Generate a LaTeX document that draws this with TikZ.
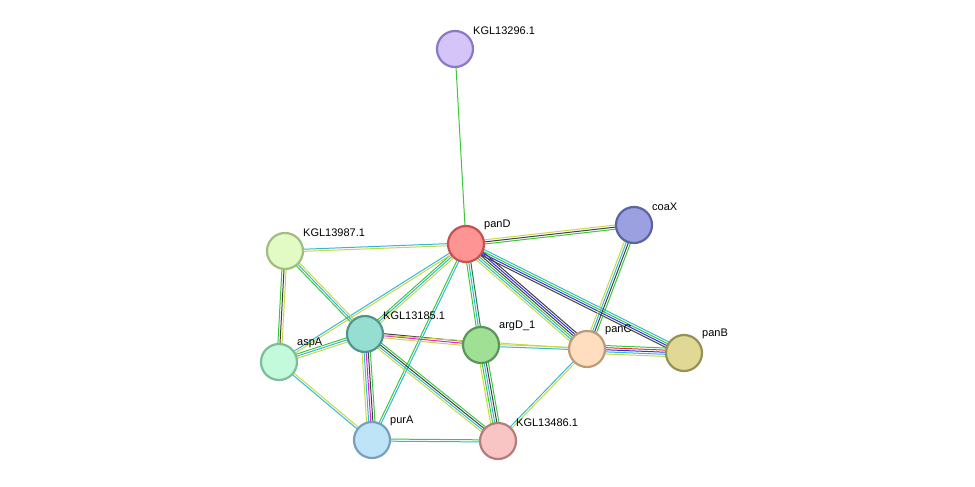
\documentclass[tikz,border=0pt]{standalone}
\usepackage{fontspec}
\setmainfont{Liberation Sans}
\usetikzlibrary{calc}
\pgfdeclarelayer{bg}\pgfsetlayers{bg,main}
\definecolor{cG}{HTML}{3CC83C}\definecolor{cC}{HTML}{30B8D8}\definecolor{cY}{HTML}{C8D840}
\definecolor{cK}{HTML}{404040}\definecolor{cB}{HTML}{3030F0}\definecolor{cM}{HTML}{E020E0}
\definecolor{cR}{HTML}{F03030}\definecolor{cD}{HTML}{208040}
\newcommand{\myedge}[3]{%
 \begin{pgfonlayer}{bg}
 \foreach \c [count=\i] in {#3} {\global\let\nn\i}%
 \foreach \c [count=\i] in {#3} {%
   \pgfmathsetmacro{\off}{(\i-(\nn+1)/2)*2.1}%
   \draw[\c,line width=1pt] ($(#1.center)!\off pt!90:(#2.center)$) -- ($(#2.center)!\off pt!-90:(#1.center)$);}
 \end{pgfonlayer}}
\tikzset{prot/.style={circle,minimum size=36pt,line width=2.2pt,inner sep=0pt},
 lab/.style={font=\fontsize{11}{12}\selectfont,anchor=south west,inner sep=1pt}}
\begin{document}
\begin{tikzpicture}[x=1pt,y=-1pt]
\useasboundingbox (0,0) rectangle (975,487);
\node[prot,fill={rgb,255:red,212;green,196;blue,248},draw={rgb,255:red,140;green,120;blue,200}] (k296) at (455,49) {};
\node[prot,fill={rgb,255:red,255;green,148;blue,148},draw={rgb,255:red,200;green,80;blue,80}] (panD) at (466,244) {};
\node[prot,fill={rgb,255:red,154;green,160;blue,224},draw={rgb,255:red,90;green,100;blue,160}] (coaX) at (634,225) {};
\node[prot,fill={rgb,255:red,226;green,250;blue,196},draw={rgb,255:red,160;green,190;blue,130}] (k987) at (285,251) {};
\node[prot,fill={rgb,255:red,150;green,222;blue,210},draw={rgb,255:red,80;green,150;blue,140}] (k185) at (365,334) {};
\node[prot,fill={rgb,255:red,160;green,224;blue,148},draw={rgb,255:red,90;green,150;blue,90}] (argD) at (481,345) {};
\node[prot,fill={rgb,255:red,255;green,222;blue,192},draw={rgb,255:red,190;green,155;blue,120}] (panC) at (587,349) {};
\node[prot,fill={rgb,255:red,224;green,216;blue,148},draw={rgb,255:red,150;green,145;blue,85}] (panB) at (684,353) {};
\node[prot,fill={rgb,255:red,196;green,250;blue,220},draw={rgb,255:red,125;green,190;blue,150}] (aspA) at (279,362) {};
\node[prot,fill={rgb,255:red,190;green,228;blue,248},draw={rgb,255:red,120;green,160;blue,190}] (purA) at (372,440) {};
\node[prot,fill={rgb,255:red,248;green,196;blue,196},draw={rgb,255:red,180;green,125;blue,125}] (k486) at (498,441) {};
\foreach \a/\t in {k296/KGL13296.1,panD/panD,coaX/coaX,k987/KGL13987.1,k185/KGL13185.1,argD/argD\_1,panC/panC,panB/panB,aspA/aspA,purA/purA,k486/KGL13486.1}
  \node[lab] (\a-l) at ($(\a.center)+(17,-13)$) {\t};
\myedge{k296}{panD}{cG}
\myedge{panD}{coaX}{cG,cK,cY}
\myedge{panD}{k987}{cC,cY}
\myedge{panD}{k185}{cG,cC,cY}
\myedge{panD}{aspA}{cC,cY}
\myedge{panD}{argD}{cG,cC,cD}
\myedge{panD}{panC}{cY,cC,cG,cK,cB,cK}
\myedge{panD}{panB}{cK,cB,cG,cC}
\myedge{panD}{purA}{cG,cC}
\myedge{coaX}{panC}{cY,cC,cK,cG}
\myedge{k987}{aspA}{cG,cK,cY}
\myedge{k987}{k185}{cG,cC,cY}
\myedge{k185}{aspA}{cG,cC,cY}
\myedge{k185}{argD}{cY,cM,cK}
\myedge{k185}{panC}{cY}
\myedge{k185}{purA}{cY,cC,cM,cK,cG}
\myedge{k185}{k486}{cY,cC,cK,cG}
\myedge{argD}{panC}{cC,cY}
\myedge{argD}{k486}{cY,cG,cC,cK,cG}
\myedge{panC}{panB}{cY,cC,cB,cR,cG}
\myedge{panC}{k486}{cC,cY}
\myedge{aspA}{purA}{cC,cY}
\myedge{purA}{k486}{cC,cG}
\end{tikzpicture}
\end{document}
